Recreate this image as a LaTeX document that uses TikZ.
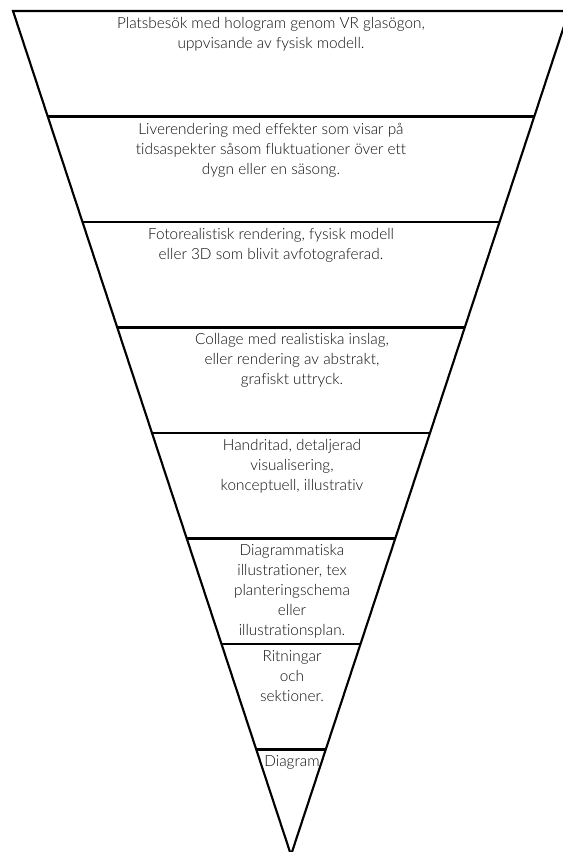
\documentclass[tikz,border=0pt]{standalone}
\usepackage{fontspec}
\setmainfont{Lato}[UprightFont=* Light, Ligatures={NoCommon}]
\usetikzlibrary{calc}
\tikzset{
  edge/.style={line width=1.6pt, line join=miter},
  label/.style={anchor=north, inner sep=0pt, align=center, text=black!95,
    font=\fontsize{11.5}{15}\selectfont}
}
\begin{document}
\begin{tikzpicture}[x=0.75pt,y=-0.75pt]
\useasboundingbox (0,0) rectangle (562,852);
\coordinate (TL) at (13,11);
\coordinate (TR) at (569,11);
\coordinate (A) at (291,855);
\draw[edge] (TL) -- (TR) -- (A) -- cycle;
\foreach \k in {1,...,7}{
  \coordinate (L\k) at ($(TL)!\k/8!(A)$);
  \coordinate (R\k) at ($(TR)!\k/8!(A)$);
  \draw[edge] (L\k) -- (R\k);
}
\node[label] (t1) at (271,17) {Platsbesök med hologram genom VR glasögon,\\uppvisande av fysisk modell.};
\node[label] (t2) at (271,122.5) {Liverendering med effekter som visar på\\tidsaspekter såsom fluktuationer över ett\\dygn eller en säsong.};
\node[label] (t3) at (271,228) {Fotorealistisk rendering, fysisk modell\\eller 3D som blivit avfotograferad.};
\node[label] (t4) at (292,333.5) {Collage med realistiska inslag,\\eller rendering av abstrakt,\\grafiskt uttryck.};
\node[label] (t5) at (292,439) {Handritad, detaljerad\\visualisering,\\konceptuell, illustrativ};
\node[label] (t6) at (292,544.5) {Diagrammatiska\\illustrationer, tex\\planteringschema\\eller\\illustrationsplan.};
\node[label] (t7) at (292,650) {Ritningar\\och\\sektioner.};
\node[label] (t8) at (292,755.5) {Diagram};
\end{tikzpicture}
\end{document}
